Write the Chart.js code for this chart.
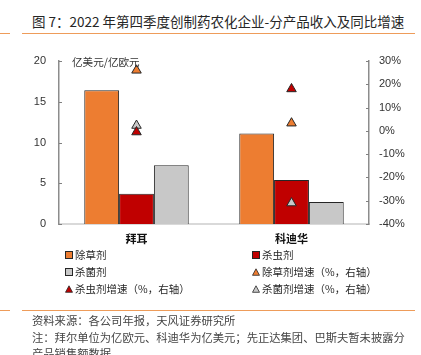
<!DOCTYPE html>
<html><head><meta charset="utf-8">
<script src="https://cdn.jsdelivr.net/npm/chart.js@4"></script>
<style>
html,body{margin:0;padding:0;background:#fff;width:421px;height:355px;overflow:hidden;position:relative;font-family:"Noto Sans CJK SC","Liberation Sans",sans-serif;}
#c{position:absolute;left:0;top:0;}
.abs{position:absolute;white-space:nowrap;}
.title{left:32px;top:11px;font-size:13.5px;color:#262626;line-height:20px;}
.hl{position:absolute;height:1px;background:#EE9C5A;}
.unit{left:72px;top:54px;font-size:10.6px;color:#333;line-height:16px;}
.lg{font-size:10.5px;color:#262626;line-height:14px;display:flex;align-items:center;}
.lg svg{margin-right:2px;}
.foot{left:32px;font-size:11.3px;color:#444;line-height:16px;}
</style></head><body>
<div class="abs title">图 7：2022 年第四季度创制药农化企业-分产品收入及同比增速</div>
<div class="hl" style="left:22px;top:33px;width:393px;"></div>
<div class="hl" style="left:0px;top:33px;width:10px;"></div>
<canvas id="c" width="421" height="250"></canvas>
<div class="abs unit">亿美元/亿欧元</div>
<div id="legend"></div>
<div class="hl" style="left:22px;top:310px;width:393px;"></div>
<div class="hl" style="left:0px;top:310px;width:10px;"></div>
<div class="abs foot" style="top:312px;">资料来源：各公司年报，天风证券研究所</div>
<div class="abs foot" style="top:329px;">注：拜尔单位为亿欧元、科迪华为亿美元；先正达集团、巴斯夫暂未披露分</div>
<div class="abs foot" style="top:345px;">产品销售额数据</div>
<script>
const categories = ['拜耳', '科迪华'];
const herbicideRevenue = [16.4, 11.1];
const insecticideRevenue = [3.7, 5.4];
const fungicideRevenue = [7.2, 2.7];
const herbicideGrowth = [26, 3.3];
const insecticideGrowth = [-0.5, 18];
const fungicideGrowth = [2.3, -31];
const leftTicks = [0, 5, 10, 15, 20];
const rightTicks = [-40, -30, -20, -10, 0, 10, 20, 30];

const ORANGE = '#ED7D31', RED = '#C00000', GREY = '#C8C8C8', EDGE = '#262626';
const tickFont = {family: '"Liberation Sans", Arial, sans-serif', size: 11};

const innerTicks = {
  id: 'innerTicks',
  afterDraw(chart) {
    const ctx = chart.ctx;
    ctx.save();
    ctx.strokeStyle = '#808080';
    ctx.lineWidth = 1;
    const y = chart.scales.y, y1 = chart.scales.y1;
    leftTicks.forEach(v => {
      const p = Math.round(y.getPixelForValue(v)) + 0.5;
      ctx.beginPath(); ctx.moveTo(y.right, p); ctx.lineTo(y.right + 3, p); ctx.stroke();
    });
    rightTicks.forEach(v => {
      const p = Math.round(y1.getPixelForValue(v)) + 0.5;
      ctx.beginPath(); ctx.moveTo(y1.left, p); ctx.lineTo(y1.left - 3, p); ctx.stroke();
    });
    ctx.restore();
  }
};

const bar = (label, data, color) => ({type: 'bar', label, data, backgroundColor: color,
  borderColor: EDGE, borderWidth: 1, yAxisID: 'y', categoryPercentage: 0.674, barPercentage: 1, order: 2});
const tri = (label, data, color) => ({type: 'line', label, data, showLine: false, pointStyle: 'triangle',
  pointRadius: 5.5, pointHoverRadius: 5.5, pointBackgroundColor: color, pointBorderColor: EDGE,
  pointBorderWidth: 1, backgroundColor: color, borderColor: EDGE, yAxisID: 'y1', order: 1});

new Chart(document.getElementById('c'), {
  data: {
    labels: categories,
    datasets: [
      bar('除草剂', herbicideRevenue, ORANGE),
      bar('杀虫剂', insecticideRevenue, RED),
      bar('杀菌剂', fungicideRevenue, GREY),
      tri('除草剂增速（%，右轴）', herbicideGrowth, ORANGE),
      tri('杀虫剂增速（%，右轴）', insecticideGrowth, RED),
      tri('杀菌剂增速（%，右轴）', fungicideGrowth, GREY)
    ]
  },
  options: {
    responsive: false, animation: false, devicePixelRatio: 1,
    layout: {padding: {top: 61, left: 0, right: 0, bottom: 0}},
    plugins: {legend: {display: false}, tooltip: {enabled: false}},
    scales: {
      x: {
        grid: {display: false, drawTicks: false},
        border: {color: '#D9D9D9', width: 2},
        ticks: {padding: 8, color: '#111', font: {family: '"Noto Sans CJK SC", sans-serif', size: 11, weight: 'bold'}},
        afterFit(s) { s.height = 26; }
      },
      y: {
        position: 'left', min: 0, max: 20,
        afterBuildTicks(s) { s.ticks = leftTicks.map(v => ({value: v})); },
        ticks: {padding: 13, color: '#333', font: tickFont},
        grid: {display: false, drawTicks: false},
        border: {color: '#8C8C8C', width: 1.5},
        afterFit(s) { s.width = 59; }
      },
      y1: {
        position: 'right', min: -40, max: 30,
        afterBuildTicks(s) { s.ticks = rightTicks.map(v => ({value: v})); },
        ticks: {padding: 10, color: '#333', font: tickFont, callback: v => v + '%'},
        grid: {display: false, drawTicks: false},
        border: {color: '#8C8C8C', width: 1.5},
        afterFit(s) { s.width = 52; }
      }
    }
  },
  plugins: [innerTicks]
});

// legend (HTML)
const sq = c => `<svg width="8" height="8"><rect x="0.5" y="0.5" width="7" height="7" fill="${c}" stroke="${EDGE}" stroke-width="1"/></svg>`;
const tr = c => `<svg width="8" height="8"><polygon points="4,0.8 7.5,7.3 0.5,7.3" fill="${c}" stroke="${EDGE}" stroke-width="0.8"/></svg>`;
const items = [
  [65, 255, sq(ORANGE), '除草剂'], [252, 255, sq(RED), '杀虫剂'],
  [65, 272, sq(GREY), '杀菌剂'], [252, 272, tr(ORANGE), '除草剂增速（%，右轴）'],
  [65, 289, tr(RED), '杀虫剂增速（%，右轴）'], [252, 289, tr(GREY), '杀菌剂增速（%，右轴）']
];
document.getElementById('legend').innerHTML = items.map(([x, y, m, t]) =>
  `<div class="abs lg" style="left:${x}px;top:${y - 7}px;">${m}<span>${t}</span></div>`).join('');
</script>
</body></html>
